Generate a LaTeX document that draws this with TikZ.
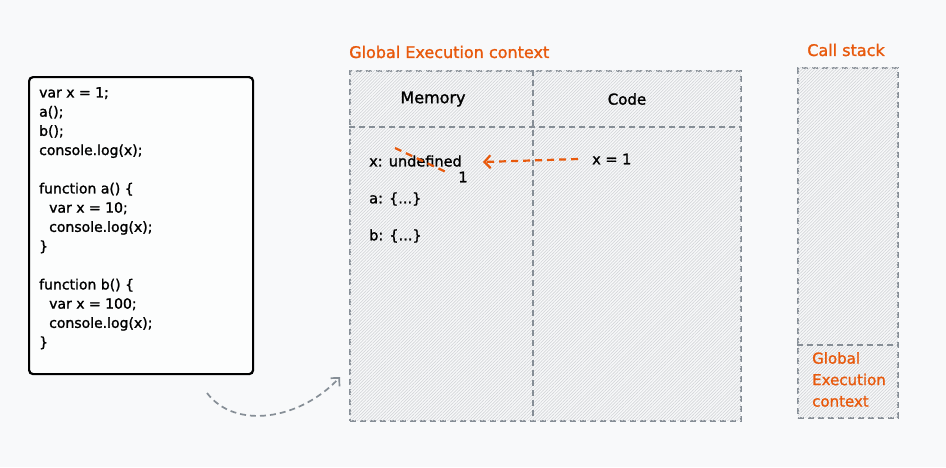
\documentclass[tikz,border=0pt]{standalone}
\usepackage{fontspec}
\setmainfont{DejaVu Sans}[BoldFont={DejaVu Sans},BoldFeatures={FakeBold=1.4}]
\usepackage{tikz}
\usetikzlibrary{arrows.meta,patterns.meta}
\tikzset{>=latex}
\definecolor{exorange}{HTML}{E8590C}
\definecolor{exgray}{HTML}{868E96}
\definecolor{paper}{HTML}{F8F9FA}
\definecolor{hatch}{HTML}{D4D6D9}

\begin{document}
\begin{tikzpicture}[x=1pt,y=-1pt,
  ctxbox/.style={draw=exgray,line width=1.7pt,dash pattern=on 6pt off 4pt,fill=paper,anchor=north west,
    postaction={pattern={Lines[angle=45,distance=2.2pt,line width=0.7pt]},pattern color=hatch}},
  ctxline/.style={exgray,line width=1.7pt,dash pattern=on 6pt off 4pt},
  heading/.style={text=exorange,font=\fontsize{16}{21.5}\selectfont\bfseries},
  entry/.style={font=\fontsize{14.5}{19}\selectfont\bfseries},
  link/.style={exorange,line width=2.2pt,dash pattern=on 7pt off 5pt}]
\fill[paper] (0,0) rectangle (946,467);
\useasboundingbox (0,0) rectangle (946,467);

% source code
\node (src) [draw,line width=2.2pt,rounded corners=4pt,fill=white!60!paper,minimum width=224pt,minimum height=297pt,anchor=north west] at (28,76) {};
\node (lines) [font=\fontsize{14}{19.2}\selectfont\bfseries,anchor=north west,align=left,inner sep=0pt] at (39,87) {var x = 1;\\ a();\\ b();\\ console.log(x);\\[19.2pt]
function a() \{\\ \hspace*{10pt}var x = 10;\\ \hspace*{10pt}console.log(x);\\ \}\\[19.2pt]
function b() \{\\ \hspace*{10pt}var x = 100;\\ \hspace*{10pt}console.log(x);\\ \}};

% global execution context
\node (gectitle) [heading,anchor=west,inner sep=0pt] at (349,52) {Global Execution context};
\node (gec) [ctxbox,minimum width=391pt,minimum height=350pt] at (349,70) {};
\draw[ctxline] (533,70) -- (533,420); % columns
\draw[ctxline] (349,127) -- (742,127);
\node (mem) [entry,font=\fontsize{16}{19}\selectfont\bfseries] at (433,99) {Memory};
\node (codecol) [entry,font=\fontsize{15}{19}\selectfont\bfseries] at (627,99) {Code};
\node (xundef) [entry,anchor=west,inner sep=0pt] at (369,161) {x: undefined};
\node (one) [entry] at (463,177) {1};
\node (afun) [entry,anchor=west,inner sep=0pt] at (369,199) {a: \{...\}};
\node (bfun) [entry,anchor=west,inner sep=0pt] at (369,236) {b: \{...\}};
\node (xone) [entry,anchor=west,inner sep=0pt] at (592,159) {x = 1};
\draw[link] (395,148) -- (446,172); % strike
\coordinate (xtip) at (483,162);
\draw[link,-{Straight Barb[length=6pt,width=13pt]}] ([xshift=-14pt]xone.west) -- (xtip);

% call stack
\node (stacktitle) [heading] at (846,50) {Call stack};
\node (stack) [ctxbox,minimum width=100pt,minimum height=350pt] at (797,67) {};
\draw[ctxline] (797,345) -- (899,345);
\node (stackgec) [heading,font=\fontsize{15}{21.5}\selectfont\bfseries,anchor=north west,align=left,inner sep=0pt] at (812,352) {Global\\Execution\\context};

% creation arrow
\coordinate (cfrom) at (207,393);
\coordinate (cto) at (340,377);
\draw[ctxline,-{Straight Barb[length=6pt,width=12pt]}] (cfrom) .. controls (235,430) and (300,420) .. (cto);
\end{tikzpicture}
\end{document}
